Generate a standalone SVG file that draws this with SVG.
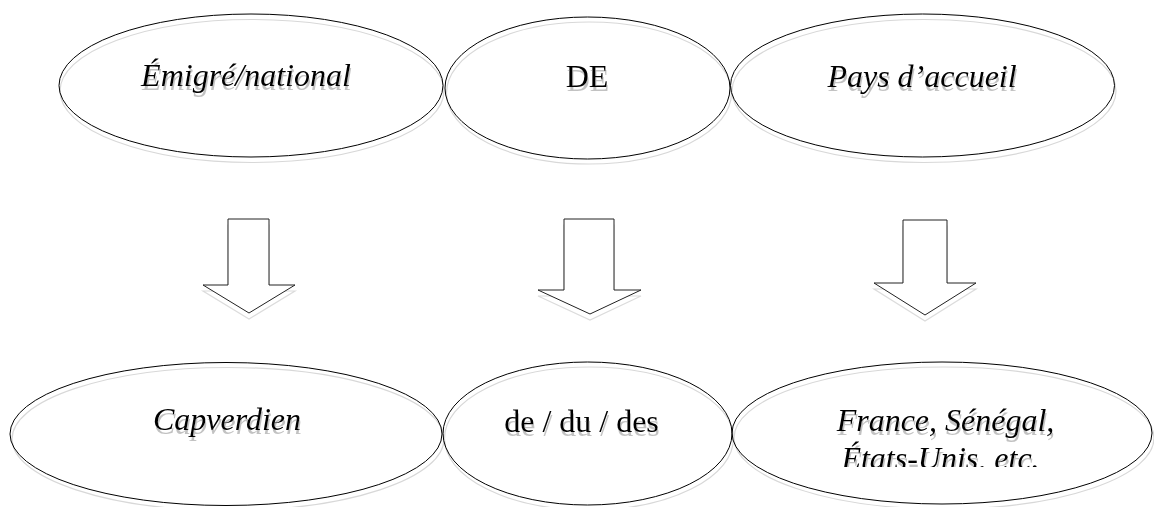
<svg xmlns="http://www.w3.org/2000/svg" width="1154" height="507" viewBox="0 0 1154 507">
<style>
.e{fill:none;stroke:#000;stroke-width:1}
.es{fill:none;stroke:#d8d8d8;stroke-width:1.2}
.a{fill:#fff;stroke:#222;stroke-width:1}
.as{fill:none;stroke:#dcdcdc;stroke-width:1.2}
.t{font-family:"Liberation Serif","DejaVu Serif",serif;font-size:32px;fill:#000;text-anchor:middle;filter:url(#sh)}
.i{font-style:italic}
</style>
<defs>
<filter id="sh" x="-10%" y="-30%" width="130%" height="180%">
<feDropShadow dx="1" dy="4" stdDeviation="0.6" flood-color="#909090" flood-opacity="0.55"/>
</filter>
<clipPath id="c1"><rect x="720" y="330" width="434" height="137"/></clipPath>
</defs>
<rect width="1154" height="507" fill="#fff"/>
<g id="connectors">
<g id="arrow1">
<polygon class="as" points="228,225 269,225 269,291 295,291 249,319 203,291 228,291"/>
<polygon class="a" points="228,219 269,219 269,285 295,285 249,313 203,285 228,285"/>
</g>
<g id="arrow2">
<polygon class="as" points="564,225 614,225 614,296 641,296 590,320 538,296 564,296"/>
<polygon class="a" points="564,219 614,219 614,290 641,290 590,314 538,290 564,290"/>
</g>
<g id="arrow3">
<polygon class="as" points="903,226 947,226 947,289 976,289 925,321 874,289 903,289"/>
<polygon class="a" points="903,220 947,220 947,283 976,283 925,315 874,283 903,283"/>
</g>
</g>
<g id="node-emigre">
<ellipse class="es" cx="252" cy="91" rx="192" ry="71.5"/>
<ellipse class="e" cx="251" cy="85.5" rx="192" ry="71.5"/>
<text class="t i" x="246" y="86">Émigré/national</text>
</g>
<g id="node-de">
<ellipse class="es" cx="589" cy="93" rx="142.5" ry="71"/>
<ellipse class="e" cx="587.5" cy="88" rx="142.5" ry="71"/>
<text class="t" x="587" y="87">DE</text>
</g>
<g id="node-pays">
<ellipse class="es" cx="924" cy="91" rx="192" ry="71.5"/>
<ellipse class="e" cx="922.5" cy="85.5" rx="192" ry="71.5"/>
<text class="t i" x="922" y="87">Pays d’accueil</text>
</g>
<g id="node-capverdien">
<ellipse class="es" cx="228" cy="439" rx="216" ry="71.5"/>
<ellipse class="e" cx="226" cy="434" rx="216" ry="71.5"/>
<text class="t i" x="227" y="430">Capverdien</text>
</g>
<g id="node-dududes">
<ellipse class="es" cx="589" cy="438.5" rx="144.5" ry="71.5"/>
<ellipse class="e" cx="587.5" cy="433.5" rx="144.5" ry="71.5"/>
<text class="t" x="581.5" y="432">de / du / des</text>
</g>
<g id="node-pays-list">
<ellipse class="es" cx="944" cy="438" rx="210" ry="71"/>
<ellipse class="e" cx="942" cy="433" rx="210" ry="71"/>
<text class="t i" x="945.5" y="431">France, Sénégal,</text>
<g clip-path="url(#c1)"><text class="t i" x="940.5" y="468.5">États-Unis, etc.</text></g>
</g>
</svg>
